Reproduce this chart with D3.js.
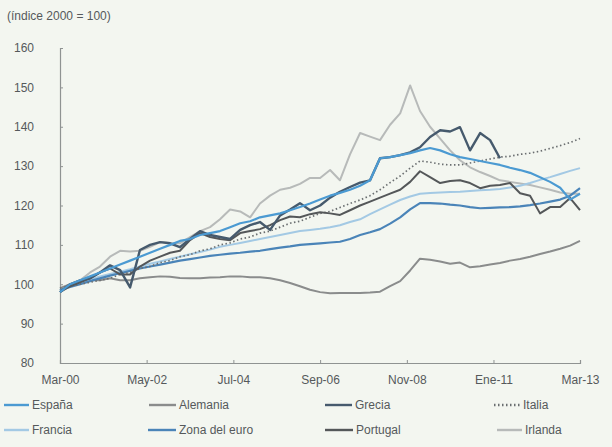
<!DOCTYPE html>
<html>
<head>
<meta charset="utf-8">
<script src="https://cdn.jsdelivr.net/npm/d3@7"></script>
<style>
  html, body { margin: 0; padding: 0; background: #f3f6f0; }
  svg { display: block; font-family: "Liberation Sans", Arial, sans-serif; }
</style>
</head>
<body>
<svg id="chart" width="612" height="447"></svg>
<script>
// ---- Data (quarterly, Mar-00 .. Mar-13) ----
const startDate = new Date(2000, 2, 1);
const nQuarters = 53;
const dates = d3.range(nQuarters).map(i => d3.timeMonth.offset(startDate, 3 * i));

const tickDates = ["2000-03", "2002-05", "2004-07", "2006-09", "2008-11", "2011-01", "2013-03"];
const tickLabels = ["Mar-00", "May-02", "Jul-04", "Sep-06", "Nov-08", "Ene-11", "Mar-13"];
const yTicks = [80, 90, 100, 110, 120, 130, 140, 150, 160];

const espana = [98, 100, 101, 102, 103, 104, 105, 106, 107, 108, 109, 110, 111, 111.5, 112.5, 113, 113.5, 114.5,
  115.5, 116, 117, 117.5, 118, 118.8, 119.6, 120.5, 121.5, 122.5, 123.2, 124, 125, 126.4, 132, 132.3, 132.8,
  133.3, 134, 134.6, 134, 133, 132.3, 131.8, 131.3, 130.8, 130.3, 129.6, 129, 128.3, 127.2, 126, 124.5, 121.5, 123];
const alemania = [99, 100, 100.5, 101, 101, 101.5, 101, 101, 101.5, 101.8, 102, 101.9, 101.6, 101.5, 101.5, 101.7,
  101.8, 102, 102, 101.8, 101.8, 101.5, 101, 100.3, 99.5, 98.6, 98, 97.7, 97.8, 97.8, 97.8, 97.9, 98.1, 99.5,
  100.8, 103.5, 106.5, 106.2, 105.8, 105.2, 105.5, 104.3, 104.6, 105, 105.4, 106, 106.4, 107, 107.7, 108.3, 109,
  109.8, 111];
const grecia = [98, 100, 101, 101.5, 103, 104.8, 103.6, 99.2, 108.7, 110, 110.7, 110.4, 109.4, 111.5, 113.5, 112.5,
  112, 111.5, 113.8, 115, 115.8, 113.8, 117.5, 119, 120.6, 118.8, 120, 122, 123.5, 124.7, 125.8, 126.4, 132, 132.3,
  132.8, 133.5, 134.8, 137.4, 139.1, 138.8, 139.9, 134, 138.4, 136.6, 132, null, null, null, null, null, null, null, null];
const italia = [99, 99.5, 100, 100.5, 101, 101.5, 102.5, 103, 104, 104.5, 105.5, 106, 107, 107.5, 108.5, 109, 110,
  110.5, 111.5, 112, 113, 113.5, 114.5, 115.5, 116, 117, 118, 118.5, 119.5, 120.5, 121.4, 122.5, 124, 125.8, 127.5,
  129.5, 131.3, 131, 130.5, 130.3, 130.3, 130.8, 131.3, 131.8, 132.3, 132.5, 133, 133.3, 133.8, 134.5, 135.2, 136, 137];
const francia = [98.5, 99.5, 100.3, 101.2, 102, 102.6, 103.2, 103.8, 104.5, 105.2, 105.8, 106.4, 107, 107.6, 108.2,
  108.8, 109.5, 110, 110.5, 111, 111.5, 112, 112.5, 113, 113.5, 113.8, 114.1, 114.5, 115, 115.8, 116.5, 117.8, 119,
  120.2, 121.4, 122.3, 123, 123.2, 123.3, 123.4, 123.5, 123.7, 123.9, 124, 124.2, 124.6, 125, 125.7, 126.5, 127.2,
  128, 128.8, 129.5];
const zona = [98.5, 99.3, 100, 100.8, 101.5, 102.2, 102.8, 103.4, 104, 104.5, 105, 105.5, 106, 106.4, 106.8, 107.2,
  107.5, 107.8, 108, 108.3, 108.5, 108.9, 109.3, 109.6, 110, 110.2, 110.4, 110.6, 110.8, 111.5, 112.5, 113.2, 114,
  115.4, 117, 119, 120.6, 120.6, 120.5, 120.2, 120, 119.6, 119.3, 119.4, 119.5, 119.6, 119.8, 120.1, 120.5, 121,
  121.5, 122.5, 124.4];
const portugal = [98, 99.5, 100.5, 101.5, 103, 104, 102.5, 102.5, 104.5, 106, 107, 108, 108.5, 111.2, 113, 112,
  111.5, 111.2, 113, 113.5, 114, 115, 116.3, 117.2, 117, 117.8, 118.3, 118, 117.6, 118.8, 120, 121, 122, 123, 124,
  126, 128.7, 127.2, 125.7, 126.2, 126.4, 125.7, 124.4, 125, 125.2, 125.7, 123.1, 122.5, 118, 119.6, 119.6, 121.9,
  118.8];
const irlanda = [98.5, 100, 101, 103, 104.5, 107, 108.5, 108.3, 108.5, 109.5, 110.7, 110.5, 110.4, 112, 113.5, 114.5,
  116.5, 119, 118.5, 117, 120.5, 122.5, 124, 124.5, 125.5, 127, 127, 129, 126.4, 133, 138.4, 137.5, 136.6, 140.5,
  143.4, 150.5, 144, 140, 137, 134, 131.5, 129.7, 128.5, 127.5, 126.4, 126, 125.6, 125.2, 124.6, 124, 123.3, 123, 123];

const series = [
  { name: "Irlanda", values: irlanda, color: "#b7bab9", width: 2, dash: null },
  { name: "Alemania", values: alemania, color: "#8a8c8c", width: 2, dash: null },
  { name: "Francia", values: francia, color: "#a3c9e4", width: 2, dash: null },
  { name: "Zona del euro", values: zona, color: "#4a84b8", width: 2.2, dash: null },
  { name: "Italia", values: italia, color: "#6a6e70", width: 1.7, dash: "1.5,2.5" },
  { name: "Portugal", values: portugal, color: "#545759", width: 2, dash: null },
  { name: "Grecia", values: grecia, color: "#465a6d", width: 2.4, dash: null },
  { name: "España", values: espana, color: "#4b9ad2", width: 2.2, dash: null }
];

// ---- Layout ----
const svg = d3.select("#chart");
const x = d3.scaleTime()
  .domain([new Date(2000, 2, 1), new Date(2013, 2, 1)])
  .range([60, 580]);
const y = d3.scaleLinear().domain([80, 160]).range([363, 48]);
const parse = d3.timeParse("%Y-%m");

const textColor = "#55595b";
const axisColor = "#8f9392";

// Title
svg.append("text").attr("x", 7).attr("y", 20)
  .attr("font-size", 12).attr("fill", textColor)
  .text("(índice 2000 = 100)");

// Y axis
const yAxis = d3.axisLeft(y).tickValues(yTicks).tickSize(-3).tickPadding(26).tickFormat(d3.format("d"));
const gy = svg.append("g").attr("transform", "translate(60,0)").call(yAxis);
gy.select(".domain").attr("stroke", axisColor).attr("stroke-width", 1.2);
gy.selectAll(".tick line").attr("stroke", axisColor);
gy.selectAll(".tick text").attr("fill", textColor).attr("font-size", 12)
  .attr("font-family", "Liberation Sans, Arial, sans-serif");

// X axis
const xAxis = d3.axisBottom(x).tickValues(tickDates.map(parse)).tickSize(-3).tickPadding(12)
  .tickFormat((d, i) => tickLabels[i]);
const gx = svg.append("g").attr("transform", "translate(0,363)").call(xAxis);
gx.select(".domain").attr("stroke", axisColor).attr("stroke-width", 1.2);
gx.selectAll(".tick line").attr("stroke", axisColor);
gx.selectAll(".tick text").attr("fill", textColor).attr("font-size", 12)
  .attr("font-family", "Liberation Sans, Arial, sans-serif");

// Lines
const line = d3.line()
  .defined(d => d.v !== null)
  .x(d => x(d.date))
  .y(d => y(d.v));

series.forEach(s => {
  svg.append("path")
    .datum(s.values.map((v, i) => ({ date: dates[i], v })))
    .attr("fill", "none")
    .attr("stroke", s.color)
    .attr("stroke-width", s.width)
    .attr("stroke-linejoin", "round")
    .attr("stroke-dasharray", s.dash)
    .attr("d", line);
});

// Legend
const legendItems = [
  { name: "España", x0: 4, x1: 29, row: 0 },
  { name: "Alemania", x0: 149, x1: 176, row: 0 },
  { name: "Grecia", x0: 325, x1: 352, row: 0 },
  { name: "Italia", x0: 494, x1: 520, row: 0 },
  { name: "Francia", x0: 4, x1: 29, row: 1 },
  { name: "Zona del euro", x0: 148, x1: 176, row: 1 },
  { name: "Portugal", x0: 325, x1: 353, row: 1 },
  { name: "Irlanda", x0: 497, x1: 522, row: 1 }
];
const rowY = [409, 434];
legendItems.forEach(item => {
  const s = series.find(d => d.name === item.name);
  const g = svg.append("g");
  g.append("line")
    .attr("x1", item.x0).attr("x2", item.x1)
    .attr("y1", rowY[item.row] - 4).attr("y2", rowY[item.row] - 4)
    .attr("stroke", s.color).attr("stroke-width", 2.4)
    .attr("stroke-dasharray", s.dash);
  g.append("text")
    .attr("x", item.x1 + 3).attr("y", rowY[item.row])
    .attr("font-size", 12).attr("fill", textColor)
    .text(item.name);
});
</script>
</body>
</html>
